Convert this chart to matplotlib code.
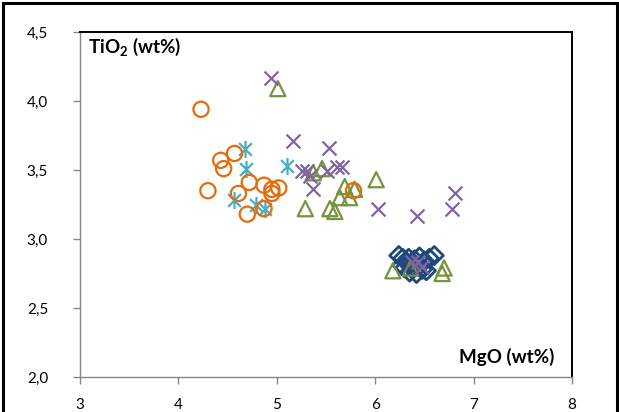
import numpy as np
import matplotlib
matplotlib.use("Agg")
import matplotlib.pyplot as plt
from matplotlib.path import Path
from matplotlib.patches import Rectangle
from matplotlib.ticker import FuncFormatter

plt.rcParams['font.family'] = ['Lato', 'DejaVu Sans']
plt.rcParams['mathtext.fontset'] = 'custom'
plt.rcParams['mathtext.bf'] = 'Lato:bold'
plt.rcParams['mathtext.rm'] = 'Lato'

# data: MgO (x) and TiO2 (y), wt%
circ_mgo = [4.23, 4.30, 4.43, 4.46, 4.57, 4.61, 4.72, 4.70, 4.87, 4.95, 4.95, 5.02, 4.87, 5.78]
circ_tio2 = [3.94, 3.35, 3.57, 3.51, 3.62, 3.33, 3.41, 3.18, 3.39, 3.36, 3.33, 3.37, 3.22, 3.35]

ast_mgo = [4.68, 4.69, 5.10, 4.57, 4.79, 4.88]
ast_tio2 = [3.65, 3.51, 3.53, 3.28, 3.25, 3.22]

x_mgo = [4.94, 5.16, 5.53, 5.26, 5.31, 5.34, 5.37, 5.51, 5.61, 5.66, 6.03, 6.42, 6.78, 6.81, 6.37, 6.43, 6.48]
x_tio2 = [4.17, 3.71, 3.66, 3.49, 3.49, 3.46, 3.36, 3.49, 3.52, 3.52, 3.22, 3.17, 3.22, 3.33, 2.83, 2.83, 2.80]

tri_mgo = [5.01, 5.29, 5.37, 5.46, 5.54, 5.59, 5.64, 5.69, 5.74, 5.79, 6.01, 6.18, 6.36, 6.68, 6.70]
tri_tio2 = [4.09, 3.22, 3.48, 3.51, 3.22, 3.20, 3.30, 3.38, 3.30, 3.36, 3.43, 2.77, 2.79, 2.75, 2.79]

dia_mgo = [6.24, 6.28, 6.32, 6.30, 6.35, 6.38, 6.40, 6.45, 6.50, 6.48, 6.55, 6.60, 6.42, 6.34, 6.36, 6.44, 6.27, 6.52]
dia_tio2 = [2.88, 2.86, 2.83, 2.79, 2.76, 2.80, 2.85, 2.87, 2.84, 2.78, 2.86, 2.88, 2.75, 2.86, 2.82, 2.80, 2.81, 2.77]

x_ticks = [3, 4, 5, 6, 7, 8]
y_ticks = [2.0, 2.5, 3.0, 3.5, 4.0, 4.5]

# asterisk = X with a vertical bar
asterisk = Path([(0, -1), (0, 1), (-0.75, -0.75), (0.75, 0.75), (-0.75, 0.75), (0.75, -0.75)],
                [Path.MOVETO, Path.LINETO] * 3)

fig = plt.figure(figsize=(6.19, 4.12), dpi=100)
ax = fig.add_axes([80/619, 1-377/412, 492/619, 345/412])

ax.scatter(dia_mgo, dia_tio2, marker='D', s=85, facecolors='none', edgecolors='#1F497D', linewidths=2, zorder=2)
ax.scatter(tri_mgo, tri_tio2, marker='^', s=120, facecolors='none', edgecolors='#77933C', linewidths=1.6, zorder=3)
ax.scatter(x_mgo, x_tio2, marker='x', s=100, color='#8064A2', linewidths=1.6, zorder=4)
ax.scatter(ast_mgo, ast_tio2, marker=asterisk, s=150, color='#4BACC6', linewidths=1.6, zorder=5)
ax.scatter(circ_mgo, circ_tio2, marker='o', s=120, facecolors='none', edgecolors='#E46C0A', linewidths=1.6, zorder=6)

ax.set_xlim(3, 8)
ax.set_ylim(2, 4.5)
ax.set_xticks(x_ticks)
ax.set_yticks(y_ticks)
ax.yaxis.set_major_formatter(FuncFormatter(lambda v, p: ('%.1f' % v).replace('.', ',')))

for s in ['left', 'bottom']:
    ax.spines[s].set_color('#868686')
    ax.spines[s].set_linewidth(1.0)
for s in ['top', 'right']:
    ax.spines[s].set_color('black')
    ax.spines[s].set_linewidth(1.4)
ax.tick_params(axis='both', direction='out', color='#868686', length=5, width=1, labelsize=11)
ax.tick_params(axis='y', pad=18)
ax.tick_params(axis='x', pad=10)

ax.text(0.016, 0.958, r'TiO$_\mathbf{2}$ (wt%)', transform=ax.transAxes, fontsize=13.5,
        fontweight='bold', ha='left', va='center')
ax.text(0.965, 0.058, 'MgO (wt%)', transform=ax.transAxes, fontsize=13.5,
        fontweight='bold', ha='right', va='center')

# outer frame of the chart area
fig.patches.append(Rectangle((3/619, -0.05), 614/619, 1.05 - 3/412, transform=fig.transFigure,
                             fill=False, edgecolor='black', linewidth=2.2))

fig.savefig('out.png', dpi=100)
